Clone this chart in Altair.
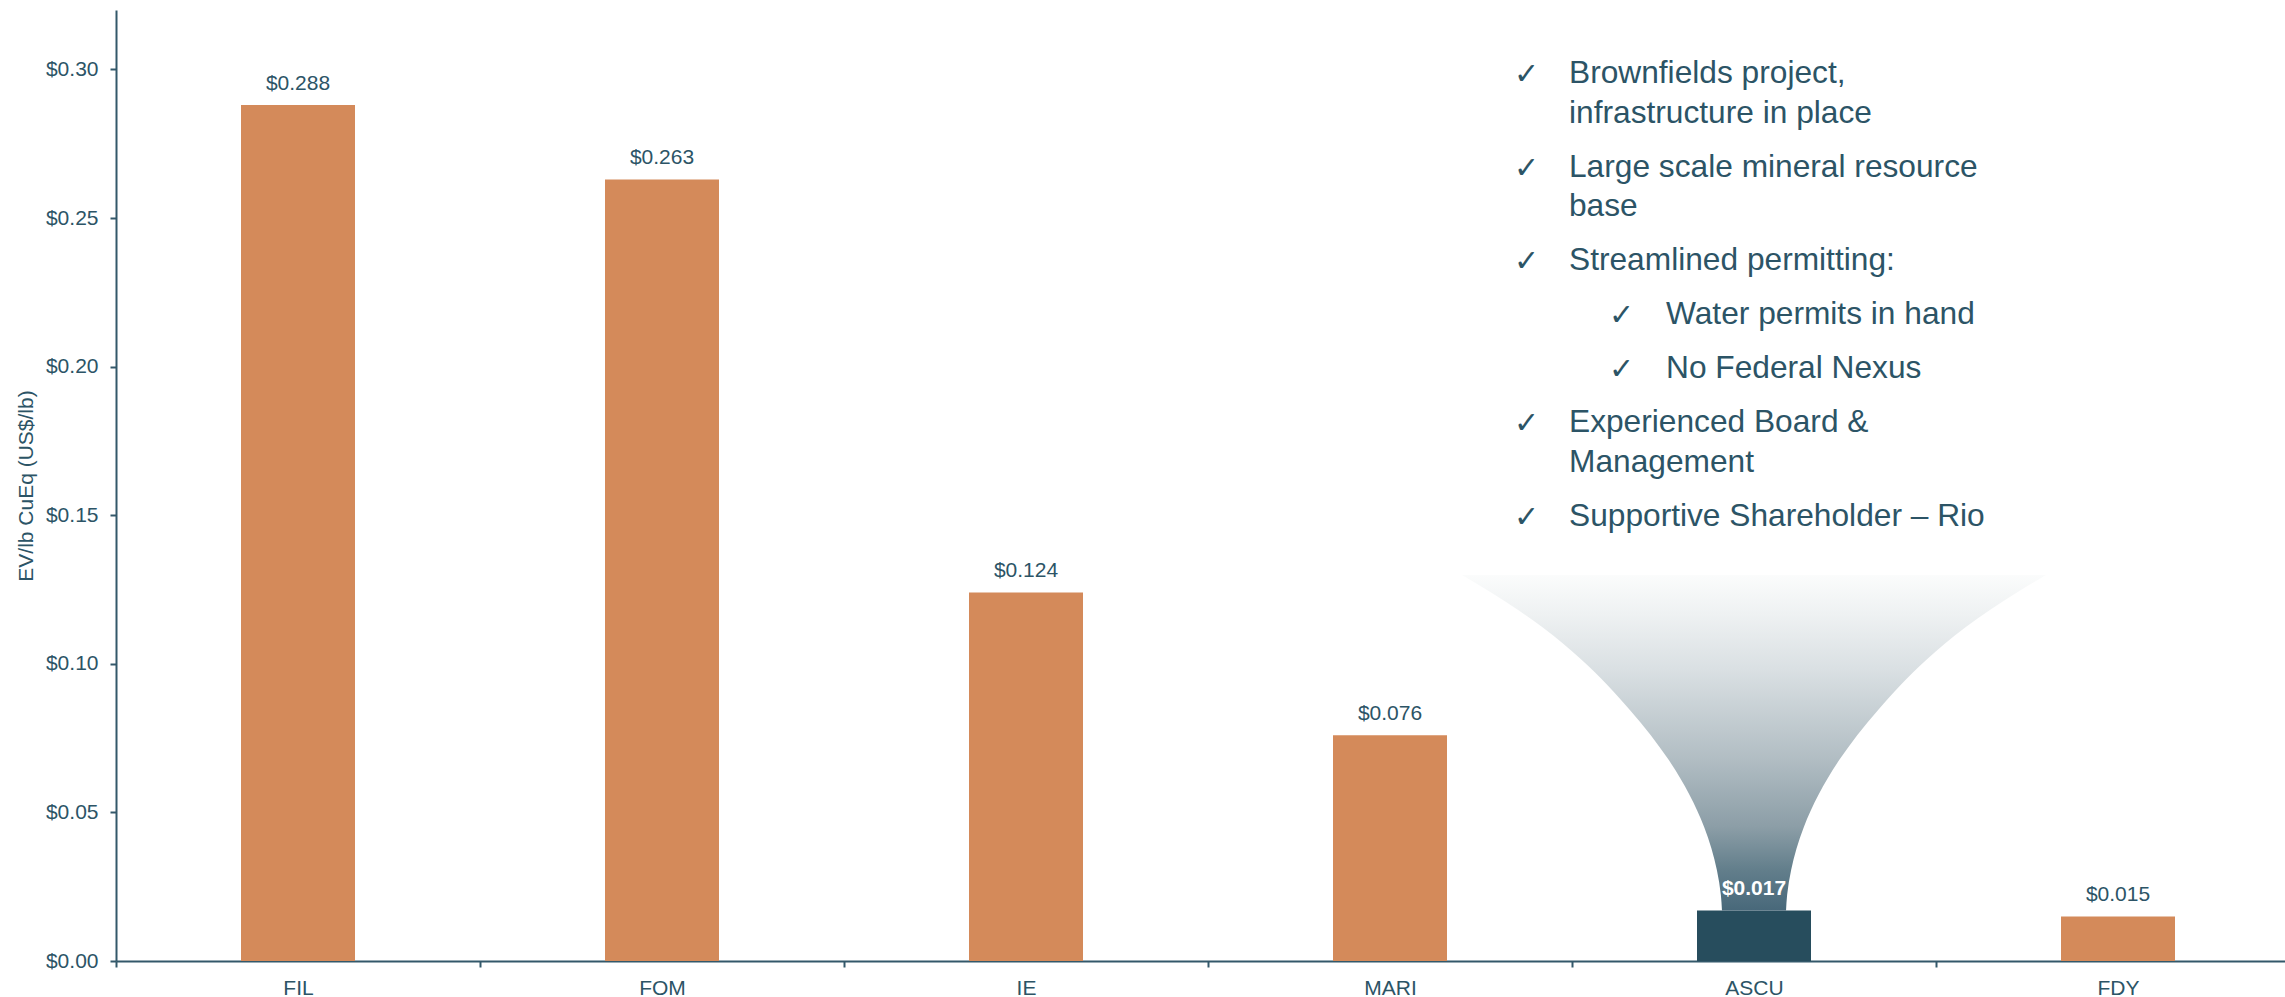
import altair as alt
import pandas as pd

# ---- data -------------------------------------------------------------
companies = ["FIL", "FOM", "IE", "MARI", "ASCU", "FDY"]
ev_per_lb = [0.288, 0.263, 0.124, 0.076, 0.017, 0.015]
highlight = "ASCU"

y_ticks = [0.00, 0.05, 0.10, 0.15, 0.20, 0.25, 0.30]

# spotlight funnel rising from the highlighted bar:
# value level (US$/lb) and half-width measured in category bands
funnel_level = [0.0170, 0.0222, 0.0306, 0.0451, 0.0676, 0.0845,
                0.1013, 0.1124, 0.1181, 0.1238, 0.1299]
funnel_half = [0.088, 0.091, 0.102, 0.137, 0.234, 0.341,
               0.473, 0.582, 0.648, 0.720, 0.802]

checklist_text = [
    "Brownfields project,\ninfrastructure in place",
    "Large scale mineral resource\nbase",
    "Streamlined permitting:",
    "Water permits in hand",
    "No Federal Nexus",
    "Experienced Board &\nManagement",
    "Supportive Shareholder \u2013 Rio",
]
checklist_level = [0, 0, 0, 1, 1, 0, 0]

# ---- styling ----------------------------------------------------------
ORANGE = "#D48A5A"
DARK = "#274D5D"
INK = "#2C5466"
AXIS = "#33586A"
FONT = "Liberation Sans"

PLOT_W, PLOT_H = 2169, 951
BAND_RANGE = [0, 2184]          # six bands of equal width
Y_DOMAIN = [0, 0.32]

x_band_scale = alt.Scale(domain=companies, range=BAND_RANGE, paddingInner=0, paddingOuter=0)
y_scale = alt.Scale(domain=Y_DOMAIN, nice=False, zero=True)

bars_df = pd.DataFrame({"company": companies, "value": ev_per_lb})
bars_df["fill"] = [DARK if c == highlight else ORANGE for c in companies]

y_axis = alt.Axis(
    values=y_ticks, format="$.2f", grid=False,
    title="EV/lb CuEq (US$/lb)",
    domainColor=AXIS, domainWidth=2, tickColor=AXIS, tickWidth=2, tickSize=6,
    labelFont=FONT, labelFontSize=21, labelColor=INK, labelPadding=12,
    titleFont=FONT, titleFontSize=21, titleFontWeight="normal", titleColor=INK,
    titleAngle=270, titleX=-84, titleY=PLOT_H / 2, titleAlign="center",
    titleBaseline="alphabetic",
)
x_axis = alt.Axis(
    title=None, labelAngle=0, tickBand="extent", grid=False,
    domainColor=AXIS, domainWidth=2, tickColor=AXIS, tickWidth=2, tickSize=6,
    labelFont=FONT, labelFontSize=21, labelColor=INK, labelPadding=10,
)

bars = alt.Chart(bars_df).mark_bar(width=114).encode(
    x=alt.X("company:N", sort=companies, scale=x_band_scale, axis=x_axis),
    y=alt.Y("value:Q", scale=y_scale, axis=y_axis),
    color=alt.Color("fill:N", scale=None),
)

labels = alt.Chart(bars_df).transform_filter(
    alt.datum.company != highlight
).mark_text(
    font=FONT, fontSize=21, color=INK, baseline="alphabetic", dy=-15
).encode(
    x=alt.X("company:N", sort=companies, scale=x_band_scale, axis=None),
    y=alt.Y("value:Q", scale=y_scale, axis=None),
    text=alt.Text("value:Q", format="$.3f"),
)

# funnel above the highlighted bar, in band units on a linear scale
center = companies.index(highlight) + 0.5
funnel_df = pd.DataFrame({"level": funnel_level, "half": funnel_half})
funnel_df["left"] = center - funnel_df["half"]
funnel_df["right"] = center + funnel_df["half"]

funnel = alt.Chart(funnel_df).mark_area(
    orient="horizontal",
    interpolate="monotone",
    color=alt.Gradient(
        gradient="linear",
        stops=[
            alt.GradientStop(offset=0.0, color="#fbfcfc"),
            alt.GradientStop(offset=0.12, color="#eef1f2"),
            alt.GradientStop(offset=0.28, color="#dae0e3"),
            alt.GradientStop(offset=0.55, color="#b1bdc3"),
            alt.GradientStop(offset=0.75, color="#8c9ea7"),
            alt.GradientStop(offset=0.88, color="#627e8b"),
            alt.GradientStop(offset=1.0, color="#48687a"),
        ],
        x1=0, x2=0, y1=0, y2=1,
    ),
).encode(
    y=alt.Y("level:Q", scale=y_scale, axis=None),
    x=alt.X("left:Q", scale=alt.Scale(domain=[0, len(companies)], range=BAND_RANGE, nice=False, zero=False), axis=None),
    x2="right:Q",
)

hl_label = alt.Chart(bars_df).transform_filter(
    alt.datum.company == highlight
).mark_text(
    font=FONT, fontSize=21, fontWeight="bold", color="white", baseline="alphabetic", dy=-15
).encode(
    x=alt.X("company:N", sort=companies, scale=x_band_scale, axis=None),
    y=alt.Y("value:Q", scale=y_scale, axis=None),
    text=alt.Text("value:Q", format="$.3f"),
)

# ---- checklist panel (positions in pixels of the plot area) -----------
FIRST_BASELINE = 73
LINE_H = 39.5
ITEM_GAP = 54
CHECK_X = [1398, 1493]
TEXT_X = [1453, 1550]

rows = []
yb = FIRST_BASELINE
for txt, lvl in zip(checklist_text, checklist_level):
    rows.append({"text": txt, "check": "\u2713", "y": yb,
                 "cx": CHECK_X[lvl], "tx": TEXT_X[lvl]})
    yb += ITEM_GAP + LINE_H * txt.count("\n")
check_df = pd.DataFrame(rows)

check_text = alt.Chart(check_df).mark_text(
    font=FONT, fontSize=31.7, color=INK, align="left", baseline="alphabetic",
    lineBreak="\n", lineHeight=LINE_H,
).encode(
    x=alt.X("tx:Q", scale=None),
    y=alt.Y("y:Q", scale=None),
    text="text:N",
)
check_marks = alt.Chart(check_df).mark_text(
    font="DejaVu Sans", fontSize=30, color=INK, align="left", baseline="alphabetic",
    dy=1,
).encode(
    x=alt.X("cx:Q", scale=None),
    y=alt.Y("y:Q", scale=None),
    text="check:N",
)

chart = alt.layer(
    bars, funnel, labels, hl_label, check_text, check_marks
).resolve_scale(
    x="independent", y="independent"
).properties(
    width=PLOT_W, height=PLOT_H,
    autosize=alt.AutoSizeParams(type="none"),
    padding={"left": 116, "top": 10, "right": 0, "bottom": 36},
    background="white",
).configure_view(stroke=None)

chart.save("out.html", embed_options={"renderer": "svg", "actions": False})
